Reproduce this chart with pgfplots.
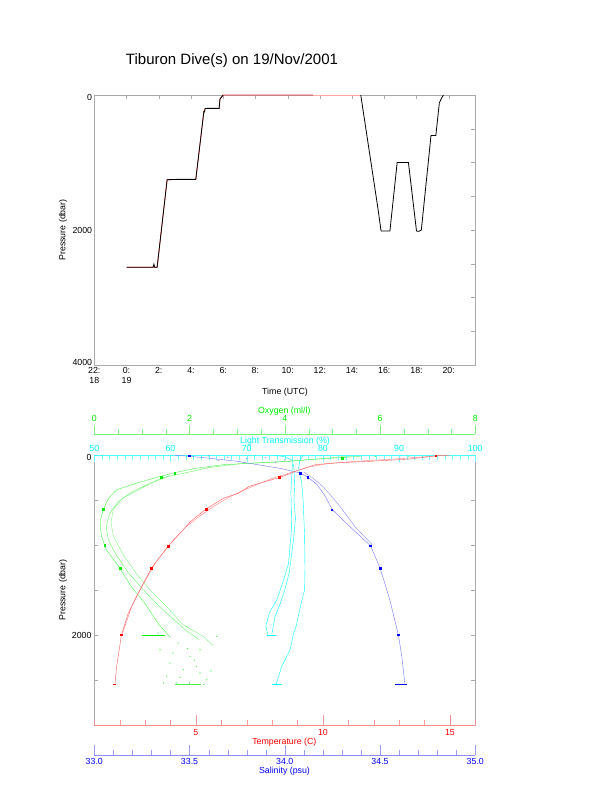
\documentclass[border=0pt]{standalone}
\usepackage{pgfplots}
\pgfplotsset{compat=1.18}
\usepackage{fontspec}
\setmainfont{Liberation Sans}
\definecolor{frame}{RGB}{170,170,170}
\definecolor{ox}{RGB}{0,235,0}
\definecolor{lt}{RGB}{0,255,255}
\newcommand{\lab}{\fontsize{8.8}{10}\selectfont}
\newcommand{\dn}[2]{\raisebox{#1}[6.3pt][0pt]{#2}}

\pgfplotsset{
  panel/.style={at={(94.3pt,#1)}, anchor=south west, scale only axis,
    width=381pt, height=270pt, clip=true,
    /pgf/number format/assume math mode=true,
    every tick label/.append style={font=\lab, inner sep=0pt}},
  hidden/.style={hide x axis, hide y axis},
}

\begin{document}
\begin{tikzpicture}
\useasboundingbox (0,0) rectangle (612pt,785pt);

% ---------------- dive track ----------------
\begin{axis}[panel=420pt, clip=false,
  xmin=-2, xmax=21.65, ymin=0, ymax=4000, y dir=reverse,
  axis line style={frame}, tick style={frame}, tick align=inside,
  major tick length=4pt,
  xtick={-2,0,...,20},
  xticklabels={{22:\\18},{0:\\19},2:,4:,6:,8:,10:,12:,14:,16:,18:,20:},
  ytick={0,500,...,4000}, yticklabels={\dn{-2pt}{0},,,,2000,,,,\dn{3pt}{4000}},
  xtick pos=right, xticklabel pos=left,
  ytick pos=right, yticklabel pos=left,
  xticklabel style={align=center, yshift=-2.6pt},
  yticklabel style={xshift=-2pt}]
\addplot[red!80, line width=0.7pt] coordinates {
  (0,2553) (1.65,2553) (1.9,2553) (2.52,1255) (4.3,1250) (4.8,247) (4.88,200)
  (5.75,198) (5.8,60) (5.9,30) (6.0,0) (11.6,0)};
\addplot[red!35, line width=0.7pt] coordinates {(11.6,0) (14.54,0)};
\addplot[black, line width=0.8pt] coordinates {
  (0,2553) (1.65,2553) (1.7,2505) (1.75,2553) (1.9,2553) (2.52,1255) (3.1,1250)
  (4.3,1250) (4.8,247) (4.85,250) (4.88,200) (5.0,198) (5.75,198) (5.8,60) (5.9,30) (6.0,0)};
\addplot[black, line width=0.8pt] coordinates {
  (14.54,0) (15.6,1670) (15.8,2015) (16.35,2015) (16.8,1000) (17.5,1000)
  (18.0,2015) (18.15,2020) (18.3,2000) (18.9,600) (19.2,600) (19.42,114)
  (19.55,50) (19.67,0)};
\end{axis}

% ---------------- profiles: frame / pressure ----------------
\begin{axis}[panel=60pt,
  xmin=0, xmax=1, ymin=0, ymax=3000, y dir=reverse,
  axis line style={frame}, tick style={frame}, tick align=inside,
  major tick length=4pt, xtick=\empty,
  ytick={0,500,...,3000}, yticklabels={\dn{-2.5pt}{0},,,,2000,,},
  yticklabel style={xshift=-2.6pt}]
\end{axis}

% oxygen data
\begin{axis}[panel=60pt, hidden, xmin=0, xmax=8, ymin=0, ymax=3000, y dir=reverse]
\addplot[ox!70, line width=0.4pt] coordinates {
  (5.8,3) (5.3,25) (4.6,48) (4.1,70) (3.4,88) (2.7,108) (2.1,150) (1.7,195)
  (1.3,250) (0.9,310) (0.47,386) (0.3,480) (0.2,590) (0.12,740) (0.15,900)
  (0.25,1050) (0.5,1230) (0.8,1480) (1.05,1640) (1.35,1880) (1.52,1980) (1.6,2030)};
\addplot[ox!60, line width=0.4pt] coordinates {
  (5.5,5) (4.8,40) (3.9,75) (3.0,100) (2.4,140) (1.9,200) (1.45,250) (1.1,330)
  (0.75,422) (0.5,520) (0.32,650) (0.25,800) (0.3,950) (0.45,1100) (0.7,1300)
  (1.0,1480) (1.3,1650) (1.65,1820) (1.95,1960) (2.2,2050)};
\addplot[ox!50, line width=0.4pt] coordinates {
  (1.6,230) (1.25,300) (0.95,380) (0.6,480) (0.4,600) (0.35,750) (0.4,900)
  (0.6,1100) (0.9,1330) (1.2,1520) (1.55,1700) (1.85,1880) (2.3,2020) (2.5,2120)};
\addplot[ox!70, only marks, mark=*, mark size=0.35pt] coordinates {
  (1.34,1978) (1.76,2089) (1.38,2163) (2.01,2238) (1.59,2311) (2.15,2349)
  (1.87,2386) (2.22,2422) (1.52,2460) (2.36,2497) (2.0,2533) (2.57,2016)
  (1.94,1904) (2.22,2163) (1.45,2533) (1.73,2533) (2.1,2280) (1.65,2200)
  (2.45,2400) (1.8,2470) (2.3,2550) (1.95,2150) (6.2,8) (6.6,12) (5.9,15)};
\addplot[ox, only marks, mark=square*, mark size=0.9pt] coordinates {
  (1.69,200) (1.41,249) (0.19,600) (0.22,1004) (0.54,1256) (5.2,33)};
\addplot[ox, line width=1pt] coordinates {(1.0,2000) (1.48,2000)};
\addplot[ox!70, line width=1pt] coordinates {(1.7,2552) (2.25,2552)};
\end{axis}

% light transmission data + top axis
\begin{axis}[panel=60pt, xmin=50, xmax=100, ymin=0, ymax=3000, y dir=reverse,
  axis x line*=top, hide y axis, axis line style={lt!70},
  tick align=inside, tick style={lt!55}, major tick length=7pt, minor tick length=5pt,
  xtick={50,60,...,100}, xticklabels={50,60,70,80,90,100},
  minor xtick={50,51,...,100},
  xticklabel style={text=lt, yshift=2.8pt}]
\addplot[lt, line width=0.4pt] coordinates {
  (73.5,0) (75.0,20) (76.0,60) (76.2,150) (76.3,300) (76.2,500) (76.4,700)
  (76.2,900) (75.9,1100) (75.6,1300) (75.0,1500) (74.4,1650) (73.7,1800) (73.3,1990)};
\addplot[lt, line width=0.4pt] coordinates {
  (77.5,0) (77.0,50) (76.8,150) (77.2,300) (77.4,500) (77.5,700) (77.6,900)
  (77.65,1256) (77.6,1500) (77.0,1700) (76.5,1900) (76.1,2000) (75.7,2160)
  (74.6,2350) (73.9,2533) (73.8,2552)};
\addplot[lt, line width=0.4pt] coordinates {
  (76.0,100) (75.8,400) (75.9,800) (75.5,1200) (74.8,1400) (74.0,1600)
  (73.0,1750) (72.5,1900) (72.8,2000)};
\addplot[lt, line width=1pt] coordinates {(72.6,2000) (73.9,2000)};
\addplot[lt, line width=1pt] coordinates {(73.3,2552) (74.6,2552)};
\end{axis}

% salinity data
\begin{axis}[panel=60pt, hidden, xmin=33, xmax=35, ymin=0, ymax=3000, y dir=reverse]
\addplot[blue!55, line width=0.4pt] coordinates {
  (33.42,2) (33.5,15) (33.6,35) (33.75,70) (33.85,105) (33.98,150) (34.08,200)
  (34.12,245) (34.17,330) (34.21,450) (34.25,608) (34.34,793) (34.45,1008)
  (34.5,1256) (34.55,1600) (34.596,1997) (34.615,2250) (34.63,2533)};
\addplot[blue!45, line width=0.4pt] coordinates {
  (34.1,190) (34.15,260) (34.2,350) (34.25,470) (34.3,600) (34.37,800) (34.46,1000)};
\addplot[blue!45, only marks, mark=*, mark size=0.35pt] coordinates {
  (33.6,10) (33.7,25) (33.8,40) (33.9,30) (34.0,55) (33.95,80) (33.65,60)};
\addplot[blue, only marks, mark=square*, mark size=0.9pt] coordinates {
  (33.5,8) (34.08,200) (34.12,244) (34.246,608) (34.447,1008) (34.5,1256) (34.596,1997)};
\addplot[blue, line width=1pt] coordinates {(34.58,2552) (34.64,2552)};
\end{axis}

% temperature data + bottom axis
\begin{axis}[panel=60pt, xmin=1, xmax=16, ymin=0, ymax=3000, y dir=reverse,
  axis x line*=bottom, hide y axis, axis line style={red!45},
  tick align=inside, tick style={red!40}, major tick length=10pt, minor tick length=5pt,
  xtick={5,10,15}, xticklabels={5,10,15}, minor xtick={1,2,...,16},
  xticklabel style={text=red, yshift=-4.2pt}]
\addplot[red!65, line width=0.4pt] coordinates {
  (15.0,2) (14.5,8) (13.4,45) (11.8,71) (10.5,88) (9.7,108) (9.1,163) (8.3,249)
  (7.1,348) (6.7,422) (6.1,478) (5.4,600) (4.8,737) (4.4,860) (3.9,1015)
  (3.25,1256) (2.66,1571) (2.34,1756) (2.07,1997) (1.88,2349) (1.81,2552)};
\addplot[red!50, line width=0.4pt] coordinates {
  (14.8,3) (14.0,20) (12.8,45) (11.3,70) (10.2,95) (9.5,130) (8.8,190) (8.0,260)
  (7.4,330) (6.8,400) (6.3,470) (5.7,570) (5.1,690) (4.6,800) (4.1,950)
  (3.4,1200) (2.8,1500) (2.45,1700) (2.15,1950) (2.07,2000)};
\addplot[red, only marks, mark=square*, mark size=0.9pt] coordinates {
  (14.44,8) (8.29,249) (5.41,600) (3.9,1015) (3.25,1256) (2.07,1997)};
\addplot[red, line width=1pt] coordinates {(1.75,2552) (1.87,2552)};
\end{axis}

% oxygen axis line
\begin{axis}[at={(94.3pt,351pt)}, anchor=north west, scale only axis,
  width=381pt, height=20pt, xmin=0, xmax=8, ymin=0, ymax=1,
  axis x line*=top, hide y axis, axis line style={ox!55},
  tick align=outside, tick style={ox!50}, major tick length=9pt, minor tick length=5pt,
  xtick={0,2,4,6,8}, xticklabels={0,2,4,6,8}, minor xtick={0,0.5,...,8},
  every tick label/.append style={font=\lab, inner sep=0pt},
  xticklabel style={text=ox, yshift=3.5pt}]
\end{axis}

% salinity axis line
\begin{axis}[at={(94.3pt,30pt)}, anchor=south west, scale only axis,
  width=381pt, height=20pt, xmin=33, xmax=35, ymin=0, ymax=1,
  axis x line*=bottom, hide y axis, axis line style={blue!45},
  tick align=inside, tick style={blue!40}, major tick length=10pt, minor tick length=5pt,
  xtick={33,33.5,34,34.5,35}, xticklabels={33.0,33.5,34.0,34.5,35.0},
  minor xtick={33.1,33.2,33.3,33.4,33.6,33.7,33.8,33.9,34.1,34.2,34.3,34.4,34.6,34.7,34.8,34.9},
  every tick label/.append style={font=\lab, inner sep=0pt},
  xticklabel style={text=blue, yshift=-3.6pt}]
\end{axis}

% titles and axis labels
\node[font=\fontsize{15}{18}\selectfont] at (232pt,724.5pt) {Tiburon Dive(s) on 19/Nov/2001};
\node[font=\lab] at (285pt,392.3pt) {Time (UTC)};
\node[font=\lab, rotate=90] at (63pt,555pt) {Pressure (dbar)};
\node[font=\lab, rotate=90] at (63pt,195pt) {Pressure (dbar)};
\node[font=\lab, text=ox] at (284.3pt,374pt) {Oxygen (ml/l)};
\node[font=\lab, text=lt] at (285pt,343.3pt) {Light Transmission (\%)};
\node[font=\lab, text=red] at (284.3pt,42.7pt) {Temperature (C)};
\node[font=\lab, text=blue] at (284.5pt,13.3pt) {Salinity (psu)};
\end{tikzpicture}
\end{document}
